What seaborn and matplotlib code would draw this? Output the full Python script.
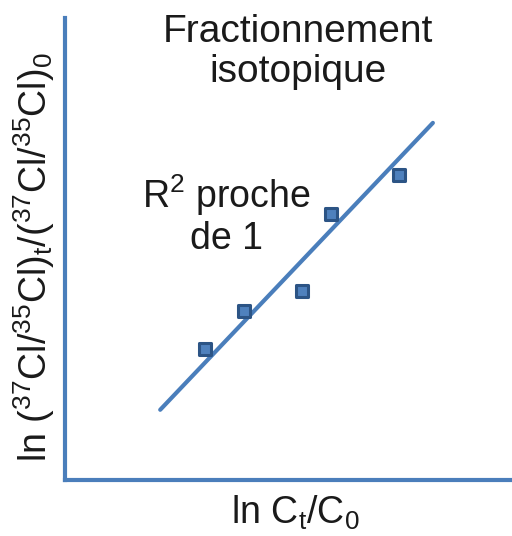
import matplotlib
matplotlib.use("Agg")
import matplotlib.pyplot as plt
import seaborn as sns
import pandas as pd

# Measured isotope ratios against remaining fraction
ln_c = [3.13, 4.00, 5.30, 5.95, 7.47]
ln_ratio = [2.84, 3.66, 4.09, 5.76, 6.60]

# Fitted regression line end points
fit_x = [2.13, 8.23]
fit_y = [1.52, 7.73]

sns.set_theme(style="white")
plt.rcParams["font.family"] = ["Liberation Sans", "DejaVu Sans"]
plt.rcParams["mathtext.fontset"] = "custom"
plt.rcParams["mathtext.rm"] = "Liberation Sans"

blue = "#4a7ebb"
fig = plt.figure(figsize=(5.12, 5.36), dpi=100)
ax = fig.add_axes([65 / 512, 1 - 480 / 536, 1 - 65 / 512, 462 / 536])

pts = pd.DataFrame({"x": ln_c, "y": ln_ratio})
fit = pd.DataFrame({"x": fit_x, "y": fit_y})
sns.lineplot(data=fit, x="x", y="y", ax=ax, color=blue, linewidth=3)
sns.scatterplot(data=pts, x="x", y="y", ax=ax, marker="s", s=80,
                color="#4f81bd", edgecolor="#2c5485", linewidth=2.2, zorder=3)

ax.set_xlim(0, 10)
ax.set_ylim(0, 10)
ax.set_xticks([])
ax.set_yticks([])
for side in ("top", "right"):
    ax.spines[side].set_visible(False)
for side in ("left", "bottom"):
    ax.spines[side].set_color(blue)
    ax.spines[side].set_linewidth(3)

ax.set_xlabel(r"ln C$\mathregular{_t}$/C$\mathregular{_0}$", fontsize=27, color="#1a1a1a", labelpad=10)
ax.xaxis.label.set_x(0.515)
ax.set_ylabel(r"ln ($\mathregular{^{37}}$Cl/$\mathregular{^{35}}$Cl)$\mathregular{_t}$/($\mathregular{^{37}}$Cl/$\mathregular{^{35}}$Cl)$\mathregular{_0}$",
              fontsize=27, color="#1a1a1a", labelpad=6)
ax.yaxis.label.set_y(0.483)

fig.text(298 / 512, 1 - 52 / 536, "Fractionnement\nisotopique", ha="center", va="center",
         fontsize=28, color="#1a1a1a", linespacing=1.12)
fig.text(226 / 512, 1 - 215 / 536, r"R$\mathregular{^2}$ proche" + "\nde 1", ha="center", va="center",
         fontsize=27, color="#1a1a1a", linespacing=1.1)

fig.savefig("out.png", dpi=100)
